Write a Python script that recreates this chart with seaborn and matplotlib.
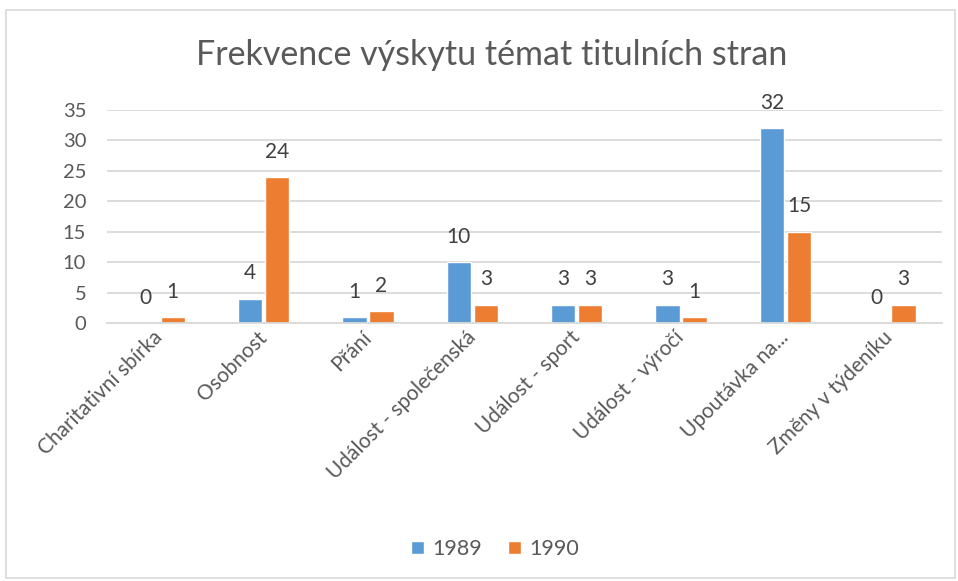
import matplotlib
matplotlib.use("Agg")
import matplotlib.pyplot as plt
import seaborn as sns
import pandas as pd
from matplotlib.patches import Rectangle

categories = ["Charitativní sbírka", "Osobnost", "Přání", "Událost - společenská",
              "Událost - sport", "Událost - výročí", "Upoutávka na...", "Změny v týdeníku"]
values_1989 = [0, 4, 1, 10, 3, 3, 32, 0]
values_1990 = [1, 24, 2, 3, 3, 1, 15, 3]
series = ["1989", "1990"]
colors = ["#5b9bd5", "#ed7d31"]
title = "Frekvence výskytu témat titulních stran"
yticks = [0, 5, 10, 15, 20, 25, 30, 35]

df = pd.DataFrame({
    "cat": categories * 2,
    "val": values_1989 + values_1990,
    "year": [series[0]] * len(categories) + [series[1]] * len(categories),
})

sns.set_theme(style="white")
plt.rcParams["font.family"] = ["Lato", "DejaVu Sans"]

fig = plt.figure(figsize=(9.58, 5.81), dpi=100)
ax = fig.add_axes([0.1117, 0.444, 0.8716, 0.367])

sns.barplot(data=df, x="cat", y="val", hue="year", palette=colors, ax=ax,
            width=0.52, gap=0.1, saturation=1, legend=True)

ax.set_ylim(0, 35)
ax.set_yticks(yticks)
ax.set_xlim(-0.5, len(categories) - 0.5)
ax.yaxis.grid(True, color="#d9d9d9", linewidth=1.3)
ax.set_axisbelow(True)
for s in ["top", "right", "left"]:
    ax.spines[s].set_visible(False)
ax.spines["bottom"].set_color("#d9d9d9")
ax.spines["bottom"].set_linewidth(1.3)
ax.set_xlabel("")
ax.set_ylabel("")
ax.tick_params(axis="y", length=0, labelsize=14.5, labelcolor="#595959", pad=15)
ax.tick_params(axis="x", length=0, labelsize=15, labelcolor="#595959", pad=8)
plt.setp(ax.get_xticklabels(), rotation=45, ha="right", va="center", rotation_mode="anchor")

for cont in ax.containers:
    ax.bar_label(cont, fmt="%d", padding=11, fontsize=15, color="#404040")

fig.text(0.513, 0.905, title, ha="center", va="center", fontsize=24.5, color="#595959")

handles, labels = ax.get_legend_handles_labels()
ax.legend_.remove()
fig.legend(handles, labels, loc="center", bbox_to_anchor=(0.517, 0.055), ncol=2,
           frameon=False, fontsize=15.5, labelcolor="#595959", handlelength=0.6,
           handleheight=0.6, handletextpad=0.4, columnspacing=1.2)

fig.patches.append(Rectangle((0.006, 0.005), 0.991, 0.978, transform=fig.transFigure,
                             fill=False, edgecolor="#d9d9d9", linewidth=1.2))

fig.savefig("out.png", dpi=100)
